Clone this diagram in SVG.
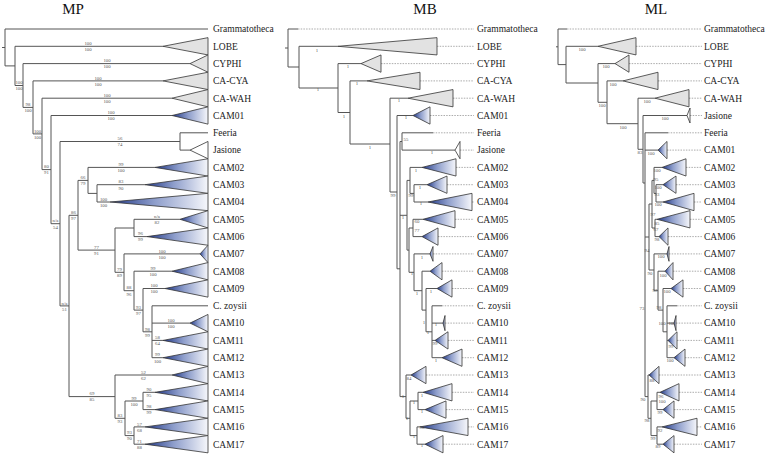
<svg xmlns="http://www.w3.org/2000/svg" width="767" height="455" viewBox="0 0 767 455">
<defs>
<linearGradient id="bg" x1="0" y1="0" x2="1" y2="0">
<stop offset="0" stop-color="#1e3585"/>
<stop offset="0.45" stop-color="#8d9dcb"/>
<stop offset="1" stop-color="#f6f7fb"/>
</linearGradient>
<style>
.b{stroke:#555;stroke-width:1;fill:none}
.g{fill:#e2e2e2;stroke:#333;stroke-width:0.8}
.c{fill:url(#bg);stroke:#333;stroke-width:0.8}
.w{fill:#fff;stroke:#333;stroke-width:0.8}
.d{stroke:#888;stroke-width:0.7;stroke-dasharray:1.5 1.2;fill:none}
.t{font-family:"Liberation Serif",serif;font-size:9.5px;fill:#222}
.s{font-family:"Liberation Serif",serif;font-size:4.8px;fill:#555;text-anchor:middle}
.h{font-family:"Liberation Serif",serif;font-size:15px;fill:#111;text-anchor:middle}
</style>
</defs>
<rect width="767" height="455" fill="#fff"/>
<text class="h" x="73" y="14">MP</text>
<text class="h" x="425" y="14">MB</text>
<text class="h" x="656" y="14">ML</text>

<!-- ================= MP ================= -->
<g id="mp-edges" class="b">
<path d="M2 47.5H5 M5 29V65.9 M5 29H208 M5 65.9H15"/>
<path d="M15 46.3V85.5 M15 46.3H163 M15 85.5H23"/>
<path d="M23 63.6V107.4 M23 63.6H190 M23 107.4H33"/>
<path d="M33 80.9V133.9 M33 80.9H163 M33 133.9H42"/>
<path d="M42 98.2V169.6 M42 98.2H172 M42 169.6H51"/>
<path d="M51 115.5V223.7 M51 115.5H172 M51 223.7H60"/>
<path d="M60 141.5V305.9 M60 141.5H180 M60 305.9H69"/>
<path d="M180 132.8V150.1 M180 132.8H208 M180 150.1H190"/>
<path d="M69 215.3V396.6 M69 215.3H78 M69 396.6H115"/>
<path d="M78 180.4V250.1 M78 180.4H88 M78 250.1H115"/>
<path d="M88 167.4V193.4 M88 167.4H155 M88 193.4H97"/>
<path d="M97 184.7V202 M97 184.7H145 M97 202H110"/>
<path d="M115 228V272.3 M115 228H134 M115 272.3H124"/>
<path d="M134 219.3V236.6 M134 219.3H180 M134 236.6H147"/>
<path d="M124 253.9V290.7 M124 253.9H200 M124 290.7H134"/>
<path d="M134 271.2V310.1 M134 271.2H172 M134 310.1H143"/>
<path d="M143 288.5V331.8 M143 288.5H165 M143 331.8H152"/>
<path d="M152 305.8V357.7 M152 305.8H208 M152 323.1H190 M152 340.4H163 M152 357.7H163"/>
<path d="M115 375V418.3 M115 375H172 M115 418.3H125"/>
<path d="M125 401V435.6 M125 401H143 M125 435.6H134"/>
<path d="M143 392.3V409.6 M143 392.3H155 M143 409.6H155"/>
<path d="M134 426.9V444.2 M134 426.9H145 M134 444.2H145"/>
</g>
<g id="mp-support" class="s">
<text x="88" y="45">100</text><text x="88" y="51.1">100</text>
<text x="19" y="84.2">100</text><text x="19" y="90.3">100</text>
<text x="107" y="62.3">100</text><text x="107" y="68.4">100</text>
<text x="28" y="106.1">98</text><text x="28" y="112.2">100</text>
<text x="98" y="79.6">100</text><text x="98" y="85.7">100</text>
<text x="37.5" y="132.6">100</text><text x="37.5" y="138.7">100</text>
<text x="107" y="96.9">100</text><text x="107" y="103">100</text>
<text x="46.5" y="168.3">80</text><text x="46.5" y="174.4">91</text>
<text x="111" y="114.2">100</text><text x="111" y="120.3">100</text>
<text x="55.5" y="222.4">n/a</text><text x="55.5" y="228.5">54</text>
<text x="120" y="140.2">56</text><text x="120" y="146.3">74</text>
<text x="64.5" y="304.6">n/a</text><text x="64.5" y="310.7">51</text>
<text x="73.5" y="214">86</text><text x="73.5" y="220.1">97</text>
<text x="92" y="395.3">69</text><text x="92" y="401.4">85</text>
<text x="83" y="179.1">66</text><text x="83" y="185.2">79</text>
<text x="96.5" y="248.8">77</text><text x="96.5" y="254.9">91</text>
<text x="121" y="166.1">99</text><text x="121" y="172.2">100</text>
<text x="121" y="183.4">83</text><text x="121" y="189.5">90</text>
<text x="103.5" y="200.7">100</text><text x="103.5" y="206.8">100</text>
<text x="157" y="218">n/a</text><text x="157" y="224.1">82</text>
<text x="140.5" y="235.3">96</text><text x="140.5" y="241.4">99</text>
<text x="119.5" y="271">79</text><text x="119.5" y="277.1">89</text>
<text x="162" y="252.6">100</text><text x="162" y="258.7">100</text>
<text x="129" y="289.4">88</text><text x="129" y="295.5">96</text>
<text x="153" y="269.9">99</text><text x="153" y="276">100</text>
<text x="138.5" y="308.8">93</text><text x="138.5" y="314.9">97</text>
<text x="154" y="287.2">100</text><text x="154" y="293.3">100</text>
<text x="147.5" y="330.5">98</text><text x="147.5" y="336.6">99</text>
<text x="171" y="321.8">100</text><text x="171" y="327.9">100</text>
<text x="157.5" y="339.1">58</text><text x="157.5" y="345.2">64</text>
<text x="157.5" y="356.4">99</text><text x="157.5" y="362.5">100</text>
<text x="143.5" y="373.7">52</text><text x="143.5" y="379.8">62</text>
<text x="120" y="417">83</text><text x="120" y="423.1">93</text>
<text x="134" y="399.7">99</text><text x="134" y="405.8">100</text>
<text x="129.5" y="434.3">93</text><text x="129.5" y="440.4">90</text>
<text x="149" y="391">90</text><text x="149" y="397.1">95</text>
<text x="149" y="408.3">98</text><text x="149" y="414.4">99</text>
<text x="139.5" y="425.6">57</text><text x="139.5" y="431.7">68</text>
<text x="139.5" y="442.9">71</text><text x="139.5" y="449">88</text>
</g>
<g id="mp-gram"><text class="t" x="213" y="32.3">Grammatotheca</text></g>
<g id="mp-lobe"><polygon class="g" points="163,46.3 208,37.65 208,54.95"/><text class="t" x="213" y="49.6">LOBE</text></g>
<g id="mp-cyphi"><polygon class="g" points="190,63.6 208,54.95 208,72.25"/><text class="t" x="213" y="66.9">CYPHI</text></g>
<g id="mp-cacya"><polygon class="g" points="163,80.9 208,72.25 208,89.55"/><text class="t" x="213" y="84.2">CA-CYA</text></g>
<g id="mp-cawah"><polygon class="g" points="172,98.2 208,89.55 208,106.85"/><text class="t" x="213" y="101.5">CA-WAH</text></g>
<g id="mp-cam01"><polygon class="c" points="172,115.5 208,106.85 208,124.15"/><text class="t" x="213" y="118.8">CAM01</text></g>
<g id="mp-feeria"><text class="t" x="213" y="136.1">Feeria</text></g>
<g id="mp-jasione"><polygon class="w" points="190,150.1 208,141.45 208,158.75"/><text class="t" x="213" y="153.4">Jasione</text></g>
<g id="mp-cam02"><polygon class="c" points="155,167.4 208,158.75 208,176.05"/><text class="t" x="213" y="170.7">CAM02</text></g>
<g id="mp-cam03"><polygon class="c" points="145,184.7 208,176.05 208,193.35"/><text class="t" x="213" y="188">CAM03</text></g>
<g id="mp-cam04"><polygon class="c" points="110,202 208,193.35 208,210.65"/><text class="t" x="213" y="205.3">CAM04</text></g>
<g id="mp-cam05"><polygon class="c" points="180,219.3 208,210.65 208,227.95"/><text class="t" x="213" y="222.6">CAM05</text></g>
<g id="mp-cam06"><polygon class="c" points="147,236.6 208,227.95 208,245.25"/><text class="t" x="213" y="239.9">CAM06</text></g>
<g id="mp-cam07"><polygon class="c" points="200,253.9 208,245.25 208,262.55"/><text class="t" x="213" y="257.2">CAM07</text></g>
<g id="mp-cam08"><polygon class="c" points="172,271.2 208,262.55 208,279.85"/><text class="t" x="213" y="274.5">CAM08</text></g>
<g id="mp-cam09"><polygon class="c" points="165,288.5 208,279.85 208,297.15"/><text class="t" x="213" y="291.8">CAM09</text></g>
<g id="mp-czoysii"><text class="t" x="213" y="309.1">C. zoysii</text></g>
<g id="mp-cam10"><polygon class="c" points="190,323.1 208,314.45 208,331.75"/><text class="t" x="213" y="326.4">CAM10</text></g>
<g id="mp-cam11"><polygon class="c" points="163,340.4 208,331.75 208,349.05"/><text class="t" x="213" y="343.7">CAM11</text></g>
<g id="mp-cam12"><polygon class="c" points="163,357.7 208,349.05 208,366.35"/><text class="t" x="213" y="361">CAM12</text></g>
<g id="mp-cam13"><polygon class="c" points="172,375 208,366.35 208,383.65"/><text class="t" x="213" y="378.3">CAM13</text></g>
<g id="mp-cam14"><polygon class="c" points="155,392.3 208,383.65 208,400.95"/><text class="t" x="213" y="395.6">CAM14</text></g>
<g id="mp-cam15"><polygon class="c" points="155,409.6 208,400.95 208,418.25"/><text class="t" x="213" y="412.9">CAM15</text></g>
<g id="mp-cam16"><polygon class="c" points="145,426.9 208,418.25 208,435.55"/><text class="t" x="213" y="430.2">CAM16</text></g>
<g id="mp-cam17"><polygon class="c" points="145,444.2 208,435.55 208,452.85"/><text class="t" x="213" y="447.5">CAM17</text></g>

<!-- ================= MB ================= -->
<g id="mb-edges" class="b">
<path d="M285 48H288 M288 29V67 M288 29H298 M288 67H299"/>
<path d="M299 46.3V88 M299 46.3H338 M299 88H338"/>
<path d="M338 63.6V112.5 M338 63.6H361 M338 112.5H350"/>
<path d="M350 80.9V144 M350 80.9H367 M350 144H390"/>
<path d="M390 98.2V192 M390 98.2H408 M390 192H397"/>
<path d="M397 115.5V268.8 M397 115.5H413 M397 268.8H400"/>
<path d="M400 141.5V396.6 M400 141.5H402 M400 215.3H407 M400 396.6H406"/>
<path d="M402 132.8V150.1 M402 132.8H433 M402 150.1H455"/>
<path d="M407 180.4V250.1 M407 180.4H410 M407 250.1H409"/>
<path d="M410 167.4V193.4 M410 167.4H422 M410 193.4H414"/>
<path d="M414 184.7V202 M414 184.7H427 M414 202H428"/>
<path d="M409 228V272.3 M409 228H413 M409 272.3H414"/>
<path d="M413 219.3V236.6 M413 219.3H423 M413 236.6H422"/>
<path d="M414 253.9V290.7 M414 253.9H430 M414 290.7H422"/>
<path d="M422 271.2V310.1 M422 271.2H430 M422 310.1H426"/>
<path d="M426 288.5V331.8 M426 288.5H437 M426 331.8H432"/>
<path d="M432 305.8V357.7 M432 305.8H442 M432 323.1H443 M432 340.4H435 M432 357.7H442"/>
<path d="M406 375V418.3 M406 375H411 M406 418.3H410"/>
<path d="M410 401V435.6 M410 401H418 M410 435.6H417"/>
<path d="M418 392.3V409.6 M418 392.3H423 M418 409.6H425"/>
<path d="M417 426.9V444.2 M417 426.9H420 M417 444.2H425"/>
</g>
<g id="mb-leaders" class="d">
<path d="M298 29H474 M437 46.3H474 M381 63.6H474 M420 80.9H474 M453 98.2H474 M430 115.5H474 M433 132.8H474 M460 150.1H474 M456 167.4H474 M447 184.7H474 M472 202H474 M455 219.3H474 M438 236.6H474 M433 253.9H474 M442 271.2H474 M452 288.5H474 M442 305.8H474 M445 323.1H474 M448 340.4H474 M462 357.7H474 M426 375H474 M452 392.3H474 M446 409.6H474 M468 426.9H474 M443 444.2H474"/>
</g>
<g id="mb-support" class="s">
<text x="317" y="52">1</text><text x="318" y="91">1</text><text x="348" y="68">1</text><text x="344" y="118">1</text>
<text x="357" y="85">1</text><text x="370" y="149">1</text><text x="399" y="102">1</text><text x="393" y="197">99</text>
<text x="406" y="119">1</text><text x="406" y="141">55</text><text x="432" y="154">1</text><text x="403" y="219">1</text>
<text x="411" y="197">99</text><text x="416" y="172">1</text><text x="420" y="189">1</text><text x="421" y="205">1</text>
<text x="417" y="223">60</text><text x="417" y="232">77</text><text x="422" y="259">1</text><text x="412" y="275">1</text>
<text x="417" y="295">1</text><text x="431" y="293">1</text><text x="424" y="324">1</text><text x="436" y="326">1</text>
<text x="428" y="334">1</text><text x="435" y="345">99</text><text x="436" y="362">1</text><text x="409" y="380">84</text>
<text x="403" y="398">1</text><text x="414" y="404">1</text><text x="407" y="420">1</text><text x="422" y="397">1</text>
<text x="422" y="413">1</text><text x="422" y="429">98</text><text x="414" y="438">1</text><text x="422" y="447">1</text>
</g>
<g id="mb-gram"><text class="t" x="477" y="32.3">Grammatotheca</text></g>
<g id="mb-lobe"><polygon class="g" points="338,46.3 437,37.65 437,54.95"/><text class="t" x="477" y="49.6">LOBE</text></g>
<g id="mb-cyphi"><polygon class="g" points="361,63.6 381,54.95 381,72.25"/><text class="t" x="477" y="66.9">CYPHI</text></g>
<g id="mb-cacya"><polygon class="g" points="367,80.9 420,72.25 420,89.55"/><text class="t" x="477" y="84.2">CA-CYA</text></g>
<g id="mb-cawah"><polygon class="g" points="408,98.2 453,89.55 453,106.85"/><text class="t" x="477" y="101.5">CA-WAH</text></g>
<g id="mb-cam01"><polygon class="c" points="413,115.5 430,106.85 430,124.15"/><text class="t" x="477" y="118.8">CAM01</text></g>
<g id="mb-feeria"><text class="t" x="477" y="136.1">Feeria</text></g>
<g id="mb-jasione"><polygon class="w" points="455,150.1 460,141.45 460,158.75"/><text class="t" x="477" y="153.4">Jasione</text></g>
<g id="mb-cam02"><polygon class="c" points="422,167.4 456,158.75 456,176.05"/><text class="t" x="477" y="170.7">CAM02</text></g>
<g id="mb-cam03"><polygon class="c" points="427,184.7 447,176.05 447,193.35"/><text class="t" x="477" y="188">CAM03</text></g>
<g id="mb-cam04"><polygon class="c" points="428,202 472,193.35 472,210.65"/><text class="t" x="477" y="205.3">CAM04</text></g>
<g id="mb-cam05"><polygon class="c" points="423,219.3 455,210.65 455,227.95"/><text class="t" x="477" y="222.6">CAM05</text></g>
<g id="mb-cam06"><polygon class="c" points="422,236.6 438,227.95 438,245.25"/><text class="t" x="477" y="239.9">CAM06</text></g>
<g id="mb-cam07"><polygon class="c" points="430,253.9 433,246.5 433,261.3"/><text class="t" x="477" y="257.2">CAM07</text></g>
<g id="mb-cam08"><polygon class="c" points="430,271.2 442,262.55 442,279.85"/><text class="t" x="477" y="274.5">CAM08</text></g>
<g id="mb-cam09"><polygon class="c" points="437,288.5 452,279.85 452,297.15"/><text class="t" x="477" y="291.8">CAM09</text></g>
<g id="mb-czoysii"><text class="t" x="477" y="309.1">C. zoysii</text></g>
<g id="mb-cam10"><polygon class="c" points="443,323.1 445,315.5 445,330.7"/><text class="t" x="477" y="326.4">CAM10</text></g>
<g id="mb-cam11"><polygon class="c" points="435,340.4 448,331.75 448,349.05"/><text class="t" x="477" y="343.7">CAM11</text></g>
<g id="mb-cam12"><polygon class="c" points="442,357.7 462,349.05 462,366.35"/><text class="t" x="477" y="361">CAM12</text></g>
<g id="mb-cam13"><polygon class="c" points="411,375 426,366.35 426,383.65"/><text class="t" x="477" y="378.3">CAM13</text></g>
<g id="mb-cam14"><polygon class="c" points="423,392.3 452,383.65 452,400.95"/><text class="t" x="477" y="395.6">CAM14</text></g>
<g id="mb-cam15"><polygon class="c" points="425,409.6 446,400.95 446,418.25"/><text class="t" x="477" y="412.9">CAM15</text></g>
<g id="mb-cam16"><polygon class="c" points="420,426.9 468,418.25 468,435.55"/><text class="t" x="477" y="430.2">CAM16</text></g>
<g id="mb-cam17"><polygon class="c" points="425,444.2 443,435.55 443,452.85"/><text class="t" x="477" y="447.5">CAM17</text></g>

<!-- ================= ML ================= -->
<g id="ml-edges" class="b">
<path d="M556 46.8H558 M558 29V64.6 M558 29H567 M558 64.6H566"/>
<path d="M566 46.3V83 M566 46.3H598 M566 83H598"/>
<path d="M598 63.6V102.3 M598 63.6H615 M598 102.3H607"/>
<path d="M607 80.9V123.7 M607 80.9H623 M607 123.7H638"/>
<path d="M638 98.2V149.3 M638 98.2H655 M638 149.3H643"/>
<path d="M643 115.5V183 M643 115.5H687 M643 183H645"/>
<path d="M645 132.8V396.6 M645 132.8H668 M645 150.1H658 M645 237H649 M645 396.6H648"/>
<path d="M649 204V270 M649 204H652 M649 270H654"/>
<path d="M652 180.4V228 M652 180.4H654 M652 228H655"/>
<path d="M654 167.4V193.4 M654 167.4H662 M654 193.4H656"/>
<path d="M656 184.7V202 M656 184.7H663 M656 202H663"/>
<path d="M655 219.3V236.6 M655 219.3H657 M655 236.6H659"/>
<path d="M654 253.9V290.7 M654 253.9H667 M654 290.7H658"/>
<path d="M658 271.2V310.1 M658 271.2H665 M658 310.1H663"/>
<path d="M663 288.5V331.8 M663 288.5H671 M663 331.8H667"/>
<path d="M667 305.8V357.7 M667 305.8H677 M667 323.1H674 M667 340.4H668 M667 357.7H674"/>
<path d="M648 375V418.3 M648 375H649 M648 418.3H651"/>
<path d="M651 401V435.6 M651 401H657 M651 435.6H657"/>
<path d="M657 392.3V409.6 M657 392.3H660 M657 409.6H663"/>
<path d="M657 426.9V444.2 M657 426.9H662 M657 444.2H663"/>
</g>
<g id="ml-leaders" class="d">
<path d="M567 29H702 M636 46.3H702 M629 63.6H702 M658 80.9H702 M689 98.2H702 M690 115.5H702 M668 132.8H702 M667 150.1H702 M686 167.4H702 M676 184.7H702 M694 202H702 M690 219.3H702 M668 236.6H702 M669 253.9H702 M673 271.2H702 M683 288.5H702 M677 305.8H702 M676 323.1H702 M677 340.4H702 M685 357.7H702 M659 375H702 M679 392.3H702 M674 409.6H702 M697 426.9H702 M674 444.2H702"/>
</g>
<g id="ml-support" class="s">
<text x="582" y="51">100</text><text x="606" y="68.4">100</text><text x="602" y="107">100</text><text x="613" y="85.7">100</text>
<text x="623" y="128.5">100</text><text x="647" y="103">100</text><text x="665" y="120.3">100</text><text x="640" y="154">83</text>
<text x="651" y="154.9">100</text>
<text x="657" y="171.5">100</text><text x="656" y="181">95</text><text x="658" y="188.5">100</text><text x="657" y="195.5">93</text>
<text x="658" y="205.5">100</text><text x="653" y="215.5">97</text><text x="657" y="224.5">85</text><text x="656" y="230.5">67</text>
<text x="657" y="240.5">98</text><text x="647" y="251.5">94</text><text x="661" y="257.5">100</text><text x="650" y="274.5">90</text>
<text x="663" y="276.5">100</text><text x="655" y="291.5">97</text><text x="667" y="292.5">100</text><text x="659" y="308.5">98</text>
<text x="642" y="309.5">73</text><text x="662" y="324.5">100</text><text x="672" y="324.5">100</text><text x="671" y="347.5">99</text>
<text x="670" y="361.5">100</text><text x="652" y="381.5">88</text><text x="661" y="397.5">96</text><text x="662" y="402.5">100</text>
<text x="643" y="400.5">90</text><text x="660" y="413.5">99</text><text x="647" y="421.5">98</text><text x="660" y="431.5">92</text>
<text x="653" y="439.5">99</text><text x="658" y="447.5">89</text>
</g>
<g id="ml-gram"><text class="t" x="704" y="32.3">Grammatotheca</text></g>
<g id="ml-lobe"><polygon class="g" points="598,46.3 636,37.65 636,54.95"/><text class="t" x="704" y="49.6">LOBE</text></g>
<g id="ml-cyphi"><polygon class="g" points="615,63.6 629,54.95 629,72.25"/><text class="t" x="704" y="66.9">CYPHI</text></g>
<g id="ml-cacya"><polygon class="g" points="623,80.9 658,72.25 658,89.55"/><text class="t" x="704" y="84.2">CA-CYA</text></g>
<g id="ml-cawah"><polygon class="g" points="655,98.2 689,89.55 689,106.85"/><text class="t" x="704" y="101.5">CA-WAH</text></g>
<g id="ml-jasione"><polygon class="w" points="687,115.5 690,108 690,123"/><text class="t" x="704" y="118.8">Jasione</text></g>
<g id="ml-feeria"><text class="t" x="704" y="136.1">Feeria</text></g>
<g id="ml-cam01"><polygon class="c" points="658,150.1 667,141.45 667,158.75"/><text class="t" x="704" y="153.4">CAM01</text></g>
<g id="ml-cam02"><polygon class="c" points="662,167.4 686,158.75 686,176.05"/><text class="t" x="704" y="170.7">CAM02</text></g>
<g id="ml-cam03"><polygon class="c" points="663,184.7 676,176.05 676,193.35"/><text class="t" x="704" y="188">CAM03</text></g>
<g id="ml-cam04"><polygon class="c" points="663,202 694,193.35 694,210.65"/><text class="t" x="704" y="205.3">CAM04</text></g>
<g id="ml-cam05"><polygon class="c" points="657,219.3 690,210.65 690,227.95"/><text class="t" x="704" y="222.6">CAM05</text></g>
<g id="ml-cam06"><polygon class="c" points="659,236.6 668,227.95 668,245.25"/><text class="t" x="704" y="239.9">CAM06</text></g>
<g id="ml-cam07"><polygon class="c" points="667,253.9 669,246.5 669,261.3"/><text class="t" x="704" y="257.2">CAM07</text></g>
<g id="ml-cam08"><polygon class="c" points="665,271.2 673,262.55 673,279.85"/><text class="t" x="704" y="274.5">CAM08</text></g>
<g id="ml-cam09"><polygon class="c" points="671,288.5 683,279.85 683,297.15"/><text class="t" x="704" y="291.8">CAM09</text></g>
<g id="ml-czoysii"><text class="t" x="704" y="309.1">C. zoysii</text></g>
<g id="ml-cam10"><polygon class="c" points="674,323.1 676,315.5 676,330.7"/><text class="t" x="704" y="326.4">CAM10</text></g>
<g id="ml-cam11"><polygon class="c" points="668,340.4 677,331.75 677,349.05"/><text class="t" x="704" y="343.7">CAM11</text></g>
<g id="ml-cam12"><polygon class="c" points="674,357.7 685,349.05 685,366.35"/><text class="t" x="704" y="361">CAM12</text></g>
<g id="ml-cam13"><polygon class="c" points="649,375 659,366.35 659,383.65"/><text class="t" x="704" y="378.3">CAM13</text></g>
<g id="ml-cam14"><polygon class="c" points="660,392.3 679,383.65 679,400.95"/><text class="t" x="704" y="395.6">CAM14</text></g>
<g id="ml-cam15"><polygon class="c" points="663,409.6 674,400.95 674,418.25"/><text class="t" x="704" y="412.9">CAM15</text></g>
<g id="ml-cam16"><polygon class="c" points="662,426.9 697,418.25 697,435.55"/><text class="t" x="704" y="430.2">CAM16</text></g>
<g id="ml-cam17"><polygon class="c" points="663,444.2 674,435.55 674,452.85"/><text class="t" x="704" y="447.5">CAM17</text></g>
</svg>
